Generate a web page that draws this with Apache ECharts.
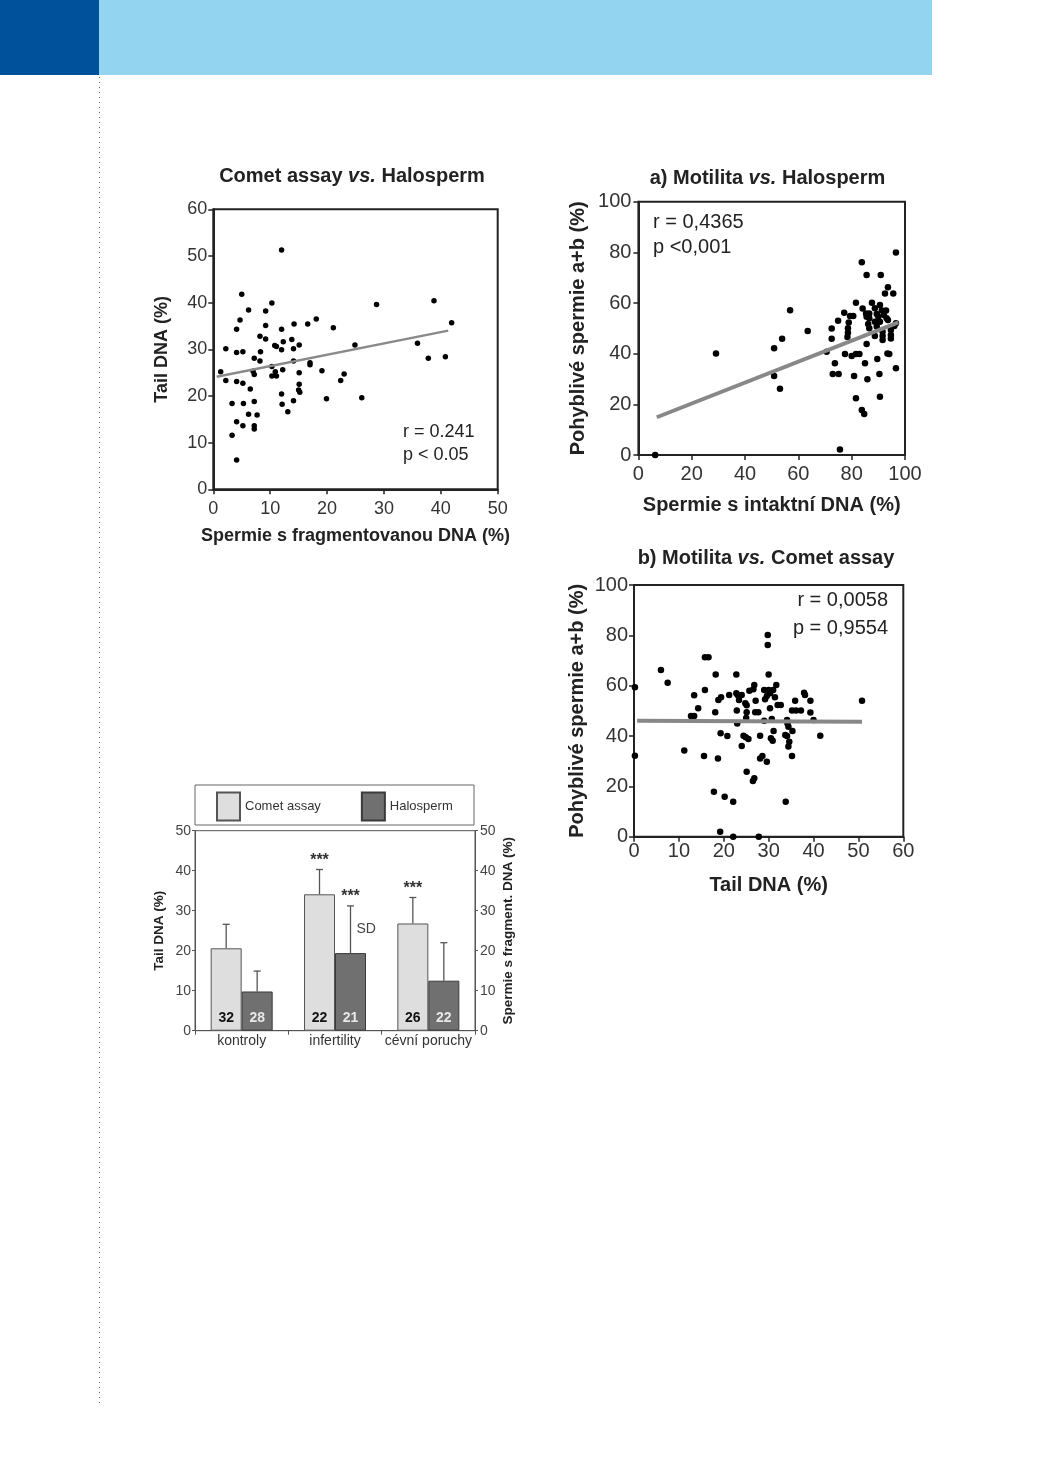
<!DOCTYPE html>
<html><head><meta charset="utf-8">
<script src="https://cdn.jsdelivr.net/npm/echarts@6/dist/echarts.min.js"></script>
<style>html,body{margin:0;padding:0;background:#fff}#c{width:1040px;height:1471px}</style>
</head><body><div id="c"></div>
<script>
const F = '"Liberation Sans", Arial, Helvetica, sans-serif';

// ---- Chart 1: Comet assay vs. Halosperm (x: % fragmented DNA, y: Tail DNA %)
const cometHaloPoints = [
 [1.3,25.2],[2.2,23.3],[2.2,30.1],[3.3,18.4],[3.3,11.6],[4.1,34.3],[4.1,29.3],[4.1,23.1],[4.1,14.5],[4.1,6.3],
 [4.7,36.3],[5.0,41.8],[5.2,29.5],[5.2,22.7],[5.3,18.4],[5.2,13.6],[6.2,38.4],[6.5,21.5],[6.2,16.1],[7.2,28.1],
 [7.0,25.3],[7.2,24.6],[7.2,18.8],[7.2,13.6],[7.2,12.9],[7.7,15.9],[8.2,32.8],[8.3,29.5],[8.2,27.5],[9.2,38.2],
 [9.2,35.1],[9.2,32.2],[10.3,39.9],[10.3,26.3],[10.3,24.3],[10.8,30.8],[11.1,30.6],[10.9,25.2],[11.1,24.3],[12.0,51.3],
 [12.0,34.3],[12.0,29.9],[12.3,31.6],[12.2,25.6],[12.0,20.4],[12.1,18.2],[13.1,16.6],[13.8,32.1],[14.2,35.4],[14.1,30.1],
 [14.1,27.5],[14.1,19.0],[15.1,30.9],[15.1,25.0],[15.1,22.5],[15.0,21.3],[15.2,20.8],[16.6,35.4],[17.0,27.1],[17.0,26.7],
 [18.1,36.5],[19.1,25.4],[19.9,19.4],[21.1,34.6],[22.4,23.3],[23.0,24.7],[24.9,30.9],[26.1,19.6],[28.7,39.6],[35.9,31.3],
 [37.8,28.1],[38.8,40.4],[40.8,28.4],[41.9,35.7]
];
const cometHaloFit = [[0.6,24.1],[41.3,34.0]];

// ---- Chart 2: a) Motilita vs. Halosperm (x: % intact DNA, y: motile a+b %)
const motHaloPoints = [
 [6.3,0],[29.1,40.1],[50.9,42.1],[50.9,31.2],[53.1,26.2],[53.9,45.9],[56.9,57.1],[63.5,49],[70.6,40.8],[72.5,49.9],
 [72.5,45.9],[72.9,32],[73.7,36.2],[74.9,53],[75.1,32],[75.6,2.2],[77.2,56.2],[77.5,39.9],[78.4,46.6],[78.6,48.3],
 [78.6,50],[78.9,52.3],[79.4,54.9],[80,39.1],[80.6,54.9],[80.9,31.2],[81.6,60.1],[81.6,39.9],[81.6,22.4],[82.9,39.9],
 [83.8,76.1],[83.8,17.8],[84.1,57.8],[84.7,16.2],[85,36.2],[85.4,55.9],[85.6,71.1],[85.6,54.6],[85.6,43.8],[85.9,29.9],
 [86.2,51.7],[86.6,55.9],[86.6,54],[86.6,50],[87.6,60.1],[88.7,57.9],[88.7,52.6],[88.7,47],[89.4,55.7],[89.4,50.7],
 [89.6,37.9],[90,54.6],[90.4,32],[90.6,59.2],[90.6,52.6],[90.6,23],[90.9,71.1],[91.3,57],[91.6,48.7],[91.6,47],
 [91.6,45.4],[92.1,55.3],[92.5,63.8],[92.9,57],[93.1,54],[93.4,40.1],[93.6,66.2],[93.6,53.3],[94.1,39.9],[94.7,49.3],
 [94.7,47.4],[94.7,46],[95.6,63.8],[96,50.9],[96.6,52],[96.6,34.2],[96.6,79.9]
];
const motHaloFit = [[6.9,14.9],[97.5,52.4]];

// ---- Chart 3: b) Motilita vs. Comet assay (x: Tail DNA %, y: motile a+b %)
const motCometPoints = [
 [0.2,59.4],[0.2,32.2],[6.0,66.2],[7.5,61.2],[11.2,34.2],[12.7,48],[13.4,48],[13.4,56.2],[14.3,51],[15.6,32.1],
 [15.8,58.3],[15.8,71.3],[16.6,71.3],[17.8,17.9],[18.1,49.4],[18.2,64.4],[18.7,31.1],[18.8,54.3],[19.2,2],[19.3,41.1],
 [19.4,55.4],[20.2,15.9],[20.8,40],[21.2,56.3],[22.1,13.9],[22.1,0],[22.8,64.4],[22.8,57],[22.9,50.1],[23.0,45],
 [23.1,56.3],[23.4,54.3],[24.0,56.3],[24.0,36],[24.4,40.1],[24.8,53],[24.9,39.5],[25.0,47.2],[25.1,49.4],[25.1,52.2],
 [25.1,25.8],[25.5,38.8],[25.7,58],[26.5,22.1],[26.8,23.2],[26.6,58.6],[26.8,60.3],[27.0,49.4],[27.1,54],[27.7,49.4],
 [27.8,0],[28.1,40.1],[28.1,31.1],[28.6,32.1],[29.0,46.1],[29.0,58.3],[29.2,54.6],[29.6,29.8],[29.6,55.9],[29.8,80.1],
 [29.8,76.2],[30.0,64.4],[30.0,58.3],[30.3,51],[30.3,57],[30.5,39.1],[30.7,46.8],[30.9,38.1],[31.0,58.3],[31.1,42],
 [31.4,55.4],[31.7,60.3],[32.0,52.3],[32.7,52.3],[33.7,40.4],[33.8,13.9],[34.1,40],[34.1,46.4],[34.2,45],[34.4,43.7],
 [34.4,35.8],[34.6,37.7],[35.2,32.1],[35.2,50.1],[35.3,42],[35.9,54],[36.1,50.1],[37.2,50.1],[37.9,57.2],[38.1,56.3],
 [39.3,54],[39.3,49.3],[40.0,46.4],[41.5,40.1],[50.8,54]
];
const motCometFit = [[0.7,46.1],[50.8,45.7]];

// ---- Bar chart
const groups = ['kontroly', 'infertility', 'cévní poruchy'];
const cometMean = [20.6, 34.1, 26.8];
const cometSD = [6.0, 6.2, 6.5];
const haloMean = [9.8, 19.4, 12.5];
const haloSD = [5.1, 11.8, 9.5];
const cometN = ['32', '22', '26'];
const haloN = ['28', '21', '22'];
const cometStars = ['', '***', '***'];
const haloStars = ['', '***', ''];
const haloNotes = ['', 'SD', ''];

const chart = echarts.init(document.getElementById('c'), null, {renderer: 'canvas'});

function scatterX(grid, min, max, interval, name, fs, gap, margin) {
  return {type: 'value', gridIndex: grid, min, max, interval,
    name, nameLocation: 'middle', nameGap: gap,
    nameTextStyle: {fontFamily: F, fontWeight: 'bold', fontSize: fs, color: '#222'},
    axisLine: {show: true, lineStyle: {color: '#222', width: 2}},
    axisTick: {show: true, length: 5, lineStyle: {color: '#222', width: 1.5}},
    axisLabel: {fontFamily: F, fontSize: fs, color: '#333', margin},
    splitLine: {show: false}};
}
function scatterY(grid, min, max, interval, name, fs, gap, margin) {
  return {type: 'value', gridIndex: grid, min, max, interval,
    name, nameLocation: 'middle', nameGap: gap, nameRotate: 90,
    nameTextStyle: {fontFamily: F, fontWeight: 'bold', fontSize: fs, color: '#222'},
    axisLine: {show: true, lineStyle: {color: '#222', width: 2}},
    axisTick: {show: true, length: 5, lineStyle: {color: '#222', width: 1.5}},
    axisLabel: {fontFamily: F, fontSize: fs, color: '#333', margin},
    splitLine: {show: false}};
}

function errRender(side, stars, notes) {
  return function (params, api) {
    const i = api.value(0);
    const c0 = api.coord([i, api.value(1)]);
    const c1 = api.coord([i, api.value(2)]);
    const x = c0[0] + side * 15.5;
    const ch = [
      {type: 'line', shape: {x1: x, y1: c0[1], x2: x, y2: c1[1]}, style: {stroke: '#555', lineWidth: 1.3}},
      {type: 'line', shape: {x1: x - 3.5, y1: c1[1], x2: x + 3.5, y2: c1[1]}, style: {stroke: '#555', lineWidth: 1.3}}
    ];
    if (stars[i]) ch.push({type: 'text', style: {text: stars[i], x: x, y: c1[1] - 1, align: 'center', verticalAlign: 'bottom', font: 'bold 16px ' + F, fill: '#333'}});
    if (notes[i]) ch.push({type: 'text', style: {text: notes[i], x: x + 6, y: (c0[1] + c1[1]) / 2, align: 'left', verticalAlign: 'middle', font: '14px ' + F, fill: '#444'}});
    return {type: 'group', children: ch};
  };
}

function titleText(x, y, pre, post) {
  return {type: 'text', x, y, z: 10,
    style: {text: '{b|' + pre + '}{i|vs.}{b|' + post + '}', align: 'center', verticalAlign: 'middle',
      rich: {b: {fontFamily: F, fontWeight: 'bold', fontSize: 20, fill: '#222'},
             i: {fontFamily: F, fontWeight: 'bold', fontStyle: 'italic', fontSize: 20, fill: '#222'}}}};
}
function plainText(x, y, t, fs, align) {
  return {type: 'text', x, y, z: 10,
    style: {text: t, align: align || 'left', verticalAlign: 'middle', font: fs + 'px ' + F, fill: '#222'}};
}

const option = {
  backgroundColor: '#fff',
  animation: false,
  legend: {
    data: ['Comet assay', 'Halosperm'], left: 216, top: 791.5, padding: 0,
    itemWidth: 23, itemHeight: 28, itemGap: 40, icon: 'rect',
    textStyle: {fontFamily: F, fontSize: 13, color: '#333'}
  },
  grid: [
    {left: 213.3, top: 209.3, width: 284.4, height: 280, show: true, borderColor: '#222', borderWidth: 2},
    {left: 638.4, top: 201.7, width: 266.6, height: 253.3, show: true, borderColor: '#222', borderWidth: 2},
    {left: 634, top: 585, width: 269.3, height: 251.7, show: true, borderColor: '#222', borderWidth: 2},
    {left: 195, top: 830.7, width: 280, height: 200, show: true, borderColor: '#555', borderWidth: 1}
  ],
  xAxis: [
    scatterX(0, 0, 50, 10, 'Spermie s fragmentovanou DNA (%)', 18, 38, 11),
    scatterX(1, 0, 100, 20, 'Spermie s intaktní DNA (%)', 20, 40, 9),
    scatterX(2, 0, 60, 10, 'Tail DNA (%)', 20, 39, 5),
    {type: 'category', gridIndex: 3, data: groups,
      axisLine: {show: true, lineStyle: {color: '#555', width: 1}},
      axisTick: {show: true, length: 4, lineStyle: {color: '#555'}},
      axisLabel: {interval: 0, fontFamily: F, fontSize: 14, color: '#333', margin: 3}}
  ],
  yAxis: [
    scatterY(0, 0, 60, 10, 'Tail DNA (%)', 18, 42, 6),
    scatterY(1, 0, 100, 20, 'Pohyblivé spermie a+b (%)', 20, 50, 7),
    scatterY(2, 0, 100, 20, 'Pohyblivé spermie a+b (%)', 20, 47, 6),
    {type: 'value', gridIndex: 3, min: 0, max: 50, interval: 10, position: 'left',
      name: 'Tail DNA (%)', nameLocation: 'middle', nameGap: 29, nameRotate: 90,
      nameTextStyle: {fontFamily: F, fontWeight: 'bold', fontSize: 13.5, color: '#222'},
      axisLine: {show: true, lineStyle: {color: '#555'}},
      axisTick: {show: true, length: 3, lineStyle: {color: '#555'}},
      axisLabel: {fontFamily: F, fontSize: 14, color: '#444', margin: 4},
      splitLine: {show: false}},
    {type: 'value', gridIndex: 3, min: 0, max: 50, interval: 10, position: 'right',
      name: 'Spermie s fragment. DNA (%)', nameLocation: 'middle', nameGap: 26, nameRotate: 90,
      nameTextStyle: {fontFamily: F, fontWeight: 'bold', fontSize: 13.5, color: '#222'},
      axisLine: {show: true, lineStyle: {color: '#555'}},
      axisTick: {show: true, length: 3, lineStyle: {color: '#555'}},
      axisLabel: {fontFamily: F, fontSize: 14, color: '#444', margin: 5},
      splitLine: {show: false}}
  ],
  series: [
    {type: 'scatter', xAxisIndex: 0, yAxisIndex: 0, data: cometHaloPoints, symbolSize: 5.5,
      itemStyle: {color: '#000', opacity: 1}},
    {type: 'line', xAxisIndex: 0, yAxisIndex: 0, data: cometHaloFit, symbol: 'none', z: 5,
      lineStyle: {color: '#8a8a8a', width: 2.5}},
    {type: 'scatter', xAxisIndex: 1, yAxisIndex: 1, data: motHaloPoints, symbolSize: 6.5,
      itemStyle: {color: '#000', opacity: 1}},
    {type: 'line', xAxisIndex: 1, yAxisIndex: 1, data: motHaloFit, symbol: 'none', z: 5,
      lineStyle: {color: '#888', width: 4}},
    {type: 'scatter', xAxisIndex: 2, yAxisIndex: 2, data: motCometPoints, symbolSize: 6.5,
      itemStyle: {color: '#000', opacity: 1}},
    {type: 'line', xAxisIndex: 2, yAxisIndex: 2, data: motCometFit, symbol: 'none', z: 5,
      lineStyle: {color: '#888', width: 4}},
    {type: 'bar', name: 'Comet assay', xAxisIndex: 3, yAxisIndex: 3, data: cometMean,
      barWidth: 31, barGap: '0%',
      itemStyle: {color: '#dedede', borderColor: '#555', borderWidth: 1},
      label: {show: true, position: 'insideBottom', distance: 6,
        formatter: p => cometN[p.dataIndex], fontFamily: F, fontWeight: 'bold', fontSize: 14, color: '#111'}},
    {type: 'bar', name: 'Halosperm', xAxisIndex: 3, yAxisIndex: 3, data: haloMean,
      barWidth: 31, barGap: '0%',
      itemStyle: {color: '#707070', borderColor: '#3a3a3a', borderWidth: 1},
      label: {show: true, position: 'insideBottom', distance: 6,
        formatter: p => haloN[p.dataIndex], fontFamily: F, fontWeight: 'bold', fontSize: 14, color: '#e8e8e8'}},
    {type: 'custom', xAxisIndex: 3, yAxisIndex: 3, z: 4, clip: false,
      data: cometMean.map((m, i) => [i, m, m + cometSD[i]]),
      renderItem: errRender(-1, cometStars, [])},
    {type: 'custom', xAxisIndex: 3, yAxisIndex: 3, z: 4, clip: false,
      data: haloMean.map((m, i) => [i, m, m + haloSD[i]]),
      renderItem: errRender(1, haloStars, haloNotes)}
  ],
  graphic: [
    {type: 'rect', shape: {x: 0, y: 0, width: 99, height: 75}, style: {fill: '#00519b'}, z: 0},
    {type: 'rect', shape: {x: 99, y: 0, width: 833, height: 75}, style: {fill: '#93d5f0'}, z: 0},
    {type: 'line', shape: {x1: 99.5, y1: 77, x2: 99.5, y2: 1403}, style: {stroke: '#666', lineWidth: 1, lineDash: [1, 4]}},
    {type: 'rect', shape: {x: 195, y: 785, width: 279, height: 40}, style: {fill: 'none', stroke: '#666', lineWidth: 1}},
    titleText(352, 176, 'Comet assay ', ' Halosperm'),
    titleText(767.5, 178, 'a) Motilita ', ' Halosperm'),
    titleText(766, 558, 'b) Motilita ', ' Comet assay'),
    plainText(403, 432, 'r = 0.241', 18),
    plainText(403, 455, 'p < 0.05', 18),
    plainText(653, 222, 'r = 0,4365', 20),
    plainText(653, 247, 'p <0,001', 20),
    plainText(888, 600, 'r = 0,0058', 20, 'right'),
    plainText(888, 628, 'p = 0,9554', 20, 'right')
  ]
};
chart.setOption(option);
</script>
</body></html>
